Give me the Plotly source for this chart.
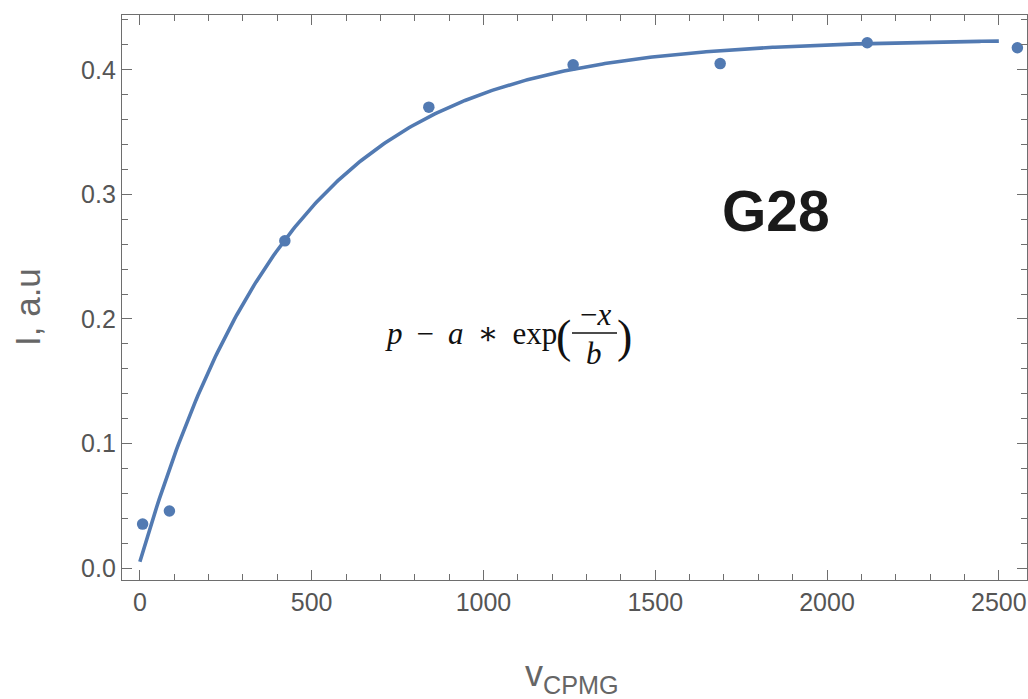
import numpy as np
import plotly.graph_objects as go

# Measured intensities vs CPMG frequency
nu_cpmg = [8, 86, 422, 841, 1261, 1689, 2117, 2554]
intensity = [0.0353, 0.0458, 0.2627, 0.370, 0.404, 0.405, 0.4217, 0.4177]

# Fit parameters for p - a*exp(-x/b)
fit_p = 0.4245
fit_a = 0.4195
fit_b = 441.0
fit_x_max = 2500

x_ticks = [0, 500, 1000, 1500, 2000, 2500]
y_ticks = [0.0, 0.1, 0.2, 0.3, 0.4]

blue = "rgb(82,122,178)"
frame = "#6e6e6e"
label_col = "#555555"
sans = "Liberation Sans, Arial, sans-serif"
serif = "Liberation Serif, DejaVu Serif, serif"

xf = np.linspace(0, fit_x_max, 400)
yf = fit_p - fit_a * np.exp(-xf / fit_b)

fig = go.Figure()
fig.add_trace(go.Scatter(x=xf, y=yf, mode="lines",
                         line=dict(color=blue, width=3.6), hoverinfo="skip"))
fig.add_trace(go.Scatter(x=nu_cpmg, y=intensity, mode="markers",
                         marker=dict(color=blue, size=11.5)))

L, R, T, B = 122, 1, 15, 119
W, H = 1028, 699


def px_x(p):
    return (p - L) / (W - L - R)


def px_y(p):
    return (H - B - p) / (H - B - T)


def note(text, x, y, size, color, family, xanchor="center", **kw):
    return dict(text=text, x=px_x(x), y=px_y(y), xref="paper", yref="paper",
                xanchor=xanchor, yanchor="middle", showarrow=False,
                font=dict(size=size, color=color, family=family), **kw)


annotations = [
    note("<b>G28</b>", 776, 211, 57, "#1a1a1a", sans),
    note("<i>p</i>\u2009 \u2212 \u2009<i>a</i>\u2009 \u2217 \u2009exp",
         559, 333, 31, "#111", serif, xanchor="right"),
    note("(", 563, 336, 46, "#111", serif),
    note("\u2212<i>x</i>", 595, 314, 31, "#111", serif),
    note("<i>b</i>", 594, 353, 31, "#111", serif),
    note(")", 624, 336, 46, "#111", serif),
    note("I, a.u", 27, 307, 35, "#666", sans, textangle=-90),
    note("v<sub>CPMG</sub>", 572, 676, 36, "#666", sans),
]

fig.add_shape(type="line", xref="paper", yref="paper",
              x0=px_x(572), x1=px_x(617), y0=px_y(333), y1=px_y(333),
              line=dict(color="#111", width=1.5))

axis_common = dict(
    showline=True, linecolor=frame, linewidth=1.3, mirror="ticks",
    ticks="inside", ticklen=10, tickwidth=1.3, tickcolor=frame,
    showgrid=False, zeroline=False,
    tickfont=dict(size=25, color=label_col, family=sans),
)

fig.update_layout(
    width=W, height=H,
    margin=dict(l=L, r=R, t=T, b=B),
    paper_bgcolor="white", plot_bgcolor="white",
    showlegend=False,
    annotations=annotations,
    xaxis=dict(range=[-52, 2582], tickvals=x_ticks, ticktext=[str(v) for v in x_ticks],
               minor=dict(dtick=100, tick0=0, ticks="inside", ticklen=6,
                          tickcolor=frame, tickwidth=1.2),
               **axis_common),
    yaxis=dict(range=[-0.0096, 0.444], tickvals=y_ticks,
               ticktext=[f"{v:.1f}" for v in y_ticks],
               minor=dict(dtick=0.02, tick0=0, ticks="inside", ticklen=6,
                          tickcolor=frame, tickwidth=1.2),
               **axis_common),
)

fig.write_html("out.html")
